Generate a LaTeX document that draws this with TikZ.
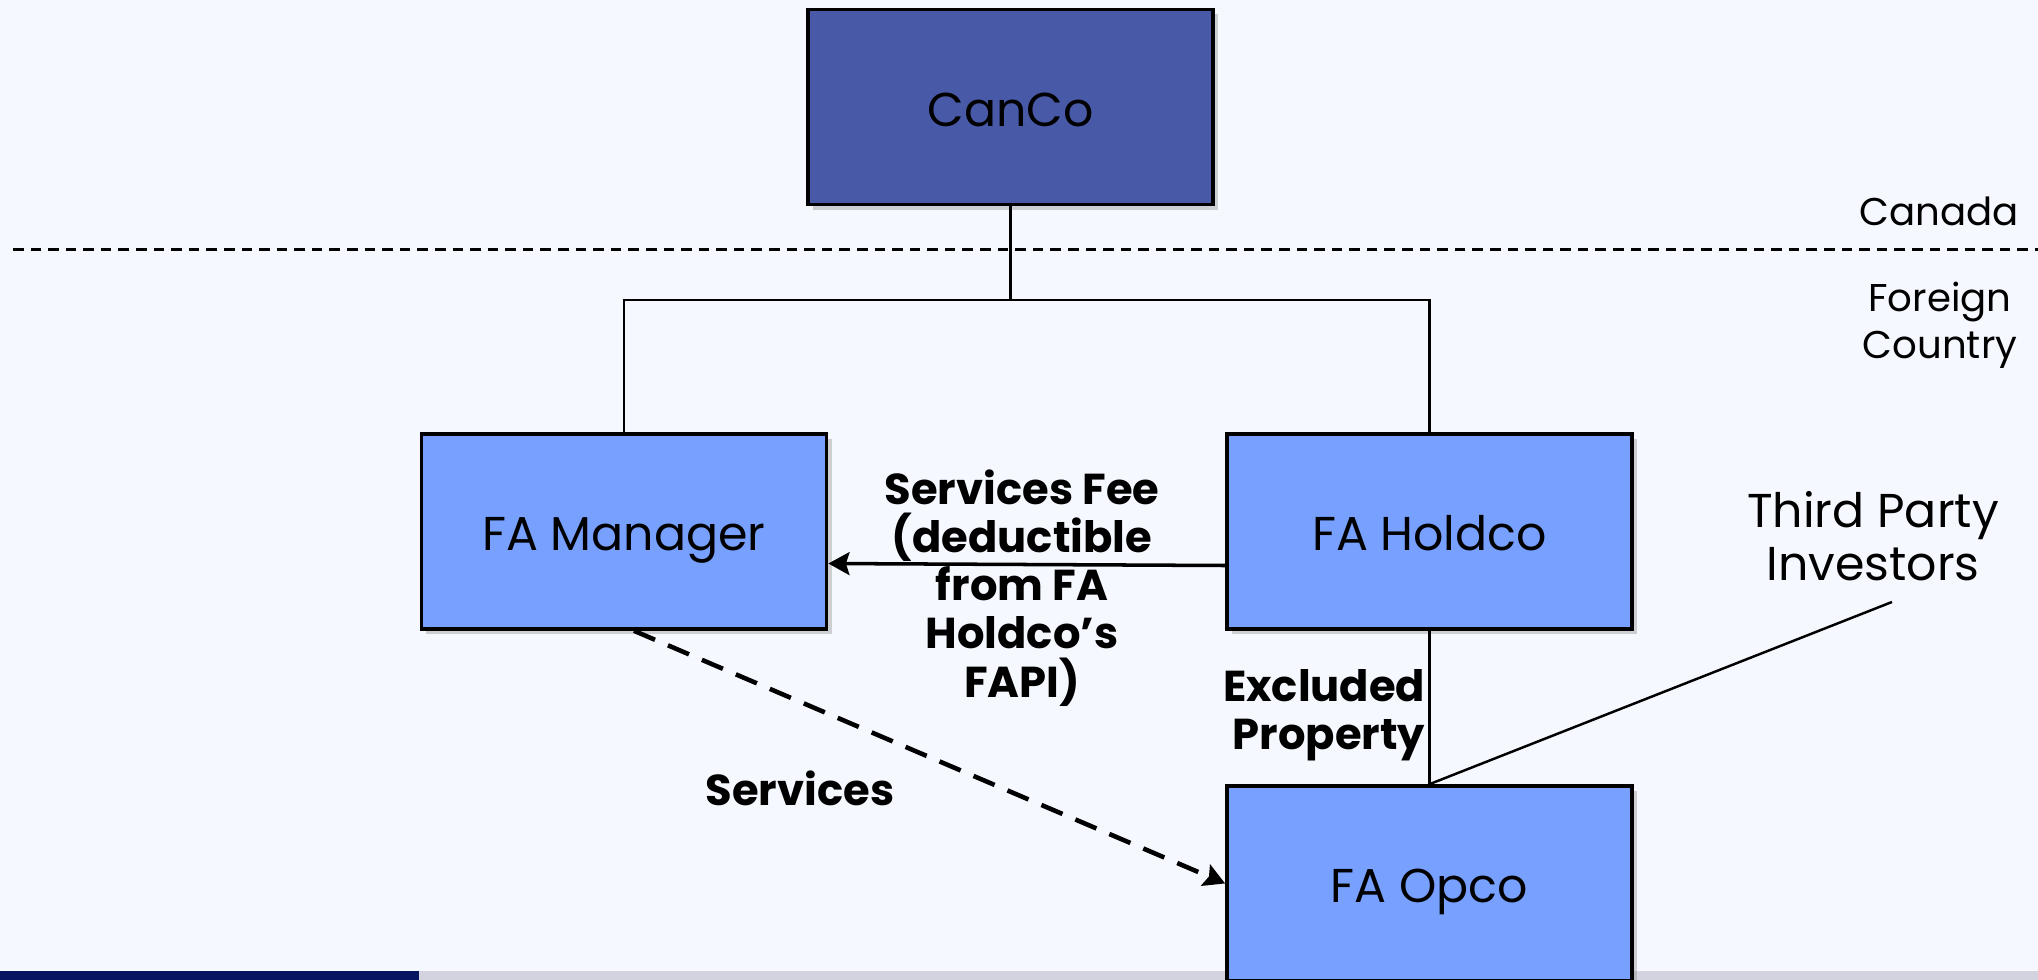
\documentclass[tikz,border=0pt]{standalone}
\usepackage{fontspec}
\setmainfont{Poppins}
\usetikzlibrary{arrows.meta,shadows}

\definecolor{pagebg}{HTML}{F5F8FE}
\definecolor{cancoblue}{HTML}{4859A8}
\definecolor{entityblue}{HTML}{77A0FF}
\definecolor{barnavy}{HTML}{061560}
\definecolor{bargrey}{HTML}{D3D3DF}

\tikzset{
  entity/.style={draw=black, line width=1pt, fill=entityblue,
    minimum width=4.05cm, minimum height=1.95cm, inner sep=0pt,
    text height=11pt, text depth=0pt,
    font=\fontsize{13.5}{15}\selectfont,
    drop shadow={shadow xshift=0.05cm, shadow yshift=-0.05cm, opacity=0.35}},
  flowlabel/.style={font=\fontsize{12.3}{13.7}\selectfont\bfseries, inner sep=0pt},
  link/.style={line width=0.7pt},
  flow/.style={line width=1pt, -{Stealth[length=6pt, width=6.5pt, inset=1pt]}},
}

\begin{document}
\begin{tikzpicture}[x=0.01cm, y=-0.01cm]

  % page and footer band
  \fill[pagebg] (0,0) rectangle (2038,980);
  \useasboundingbox (0,0) rectangle (2038,980);
  \clip (0,0) rectangle (2038,980);
  \fill[barnavy] (0,971) rectangle (419,980);
  \fill[bargrey] (419,971) rectangle (2038,980);

  % border between the two countries
  \draw[line width=0.85pt, dash pattern=on 3pt off 2pt] (13,250) -- (2038,250);
  \node[font=\fontsize{11}{13}\selectfont] (canada) at (1939,211) {Canada};
  \node[font=\fontsize{11}{13.4}\selectfont, align=center] (foreign) at (1940,325) {Foreign\\Country};

  % entities
  \node[entity, fill=cancoblue] (canco) at (1010.5,107) {CanCo};
  \node[entity] (manager) at (624,531.5) {FA Manager};
  \node[entity] (holdco) at (1429.5,531.5) {FA Holdco};
  \node[entity] (opco) at (1429.5,883.5) {FA Opco};

  % ownership
  \coordinate (split) at (1010.5,300);
  \draw[link] (canco.south) -- (split);
  \draw[link] (manager.north) |- (split) -| (holdco.north);
  \draw[link] (holdco.south) -- (opco.north);

  % third party interest in opco
  \coordinate (investors) at (1892,602);
  \draw[link] (opco.north) -- (investors);
  \node[font=\fontsize{13.5}{15.2}\selectfont, align=center] (thirdparty) at (1873,536) {Third Party\\Investors};

  % fee and services
  \draw[flow] ([yshift=-0.34cm]holdco.west) -- ([yshift=-0.32cm]manager.east);
  \node[flowlabel, align=center] (fee) at (1022,588) {Services Fee\\(deductible\\from FA\\Holdco’s\\FAPI)};
  \draw[flow, line width=1.3pt, dash pattern=on 6.5pt off 4pt] ([xshift=0.1cm]manager.south) -- (opco.west);
  \node[flowlabel] (services) at (800,788) {Services};
  \node[flowlabel, align=right, anchor=east] (excluded) at (1426,715) {Excluded\\Property};

\end{tikzpicture}
\end{document}
